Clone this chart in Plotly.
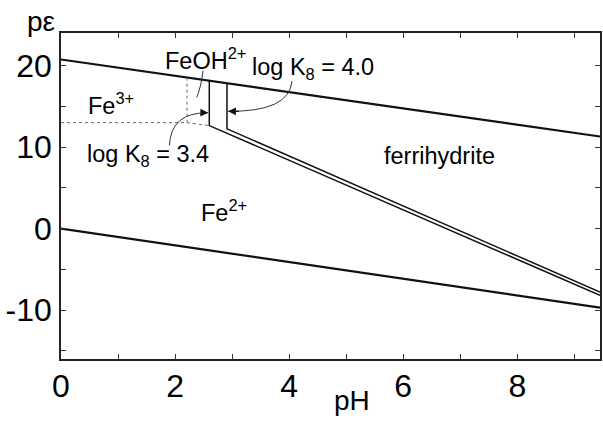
import plotly.graph_objects as go

# ---- data (pH, pe) ----
upper_ph = [0, 9.45]
upper_pe = [20.75, 11.3]
lower_ph = [0, 9.45]
lower_pe = [0.0, -9.7]

fh1_ph = [2.60, 2.60, 9.45]          # log K8 = 3.4 boundary
fh1_pe = [18.15, 12.64, -8.2]
fh2_ph = [2.91, 2.91, 9.45]          # log K8 = 4.0 boundary
fh2_pe = [17.84, 12.24, -7.8]

dot_h_ph = [0, 2.21, 2.60]           # Fe3+ / Fe2+ (dotted)
dot_h_pe = [13.0, 13.0, 12.64]
dot_v_ph = [2.21, 2.21]              # Fe3+ / FeOH2+ (dotted)
dot_v_pe = [13.0, 18.54]

x_ticks = [0, 2, 4, 6, 8]
x_labels = ["0", "2", "4", "6", "8"]
y_ticks = [-10, 0, 10, 20]
y_labels = ["-10", "0", "10", "20"]

labels = [
    ("Fe<sup>3+</sup>", 0.88, 15.3),
    ("FeOH<sup>2+</sup>", 2.53, 20.8),
    ("log K<sub>8</sub> = 3.4", 1.53, 9.0),
    ("log K<sub>8</sub> = 4.0", 4.42, 19.7),
    ("ferrihydrite", 6.63, 8.9),
    ("Fe<sup>2+</sup>", 2.86, 2.1),
]

# curved arrows: start, control, tip (pH, pe)
curves = [
    ((2.49, 19.4), (2.46, 17.5), (2.38, 16.1)),
    ((1.90, 10.2), (1.93, 14.3), (2.58, 14.2)),
    ((4.05, 18.1), (4.00, 14.3), (2.93, 14.4)),
]

fig = go.Figure()
black = "#111"
fig.add_trace(go.Scatter(x=upper_ph, y=upper_pe, mode="lines", line=dict(color=black, width=2.2)))
fig.add_trace(go.Scatter(x=lower_ph, y=lower_pe, mode="lines", line=dict(color=black, width=2.2)))
fig.add_trace(go.Scatter(x=fh1_ph, y=fh1_pe, mode="lines", line=dict(color=black, width=1.5)))
fig.add_trace(go.Scatter(x=fh2_ph, y=fh2_pe, mode="lines", line=dict(color=black, width=1.5)))
fig.add_trace(go.Scatter(x=dot_h_ph, y=dot_h_pe, mode="lines", line=dict(color="#666", width=1, dash="dot")))
fig.add_trace(go.Scatter(x=dot_v_ph, y=dot_v_pe, mode="lines", line=dict(color="#666", width=1, dash="dot")))

FONT = "Liberation Sans, Arial, sans-serif"
annots = []
for t, x, y in labels:
    annots.append(dict(text=t, x=x, y=y, xref="x", yref="y", showarrow=False,
                       font=dict(family=FONT, size=23.5, color="black")))

shapes = []
for (p0, c, p2) in curves:
    shapes.append(dict(type="path", xref="x", yref="y",
                       path=f"M {p0[0]},{p0[1]} Q {c[0]},{c[1]} {p2[0]},{p2[1]}",
                       line=dict(color="#333", width=1)))
    annots.append(dict(text="", x=p2[0], y=p2[1], xref="x", yref="y",
                       ax=c[0] + 0.8 * (p2[0] - c[0]), ay=c[1] + 0.8 * (p2[1] - c[1]),
                       axref="x", ayref="y", showarrow=True, arrowhead=2,
                       arrowsize=1.3, arrowwidth=1.2, arrowcolor="#111", standoff=0))

annots.append(dict(text="pH", x=0.54, y=-0.128, xref="paper", yref="paper", showarrow=False,
                   xanchor="center", yanchor="middle", font=dict(family=FONT, size=28, color="black")))
annots.append(dict(text="pε", x=-0.037, y=1.035, xref="paper", yref="paper", showarrow=False,
                   xanchor="center", yanchor="middle", font=dict(family=FONT, size=28, color="black")))

fig.update_layout(
    width=603, height=421,
    margin=dict(l=61, r=1, t=33, b=62),
    paper_bgcolor="white", plot_bgcolor="white",
    showlegend=False,
    annotations=annots, shapes=shapes,
    font=dict(family=FONT, color="black"),
)
fig.update_xaxes(range=[0, 9.45], tickvals=x_ticks, ticktext=x_labels,
                 ticks="inside", ticklen=5, tickwidth=1, tickcolor="#333",
                 minor=dict(dtick=1, tick0=0, ticks="inside", ticklen=5, tickwidth=1, tickcolor="#333"),
                 showline=True, linecolor="#222", linewidth=1.6, mirror="ticks",
                 showgrid=False, zeroline=False, tickfont=dict(size=32),
                 ticklabelstandoff=-2)
fig.update_yaxes(range=[-16, 24], tickvals=y_ticks, ticktext=y_labels,
                 ticks="inside", ticklen=5, tickwidth=1, tickcolor="#333",
                 minor=dict(dtick=5, tick0=0, ticks="inside", ticklen=5, tickwidth=1, tickcolor="#333"),
                 showline=True, linecolor="#222", linewidth=1.6, mirror="ticks",
                 showgrid=False, zeroline=False, tickfont=dict(size=32),
                 ticklabelstandoff=1)

fig.write_html("out.html")
